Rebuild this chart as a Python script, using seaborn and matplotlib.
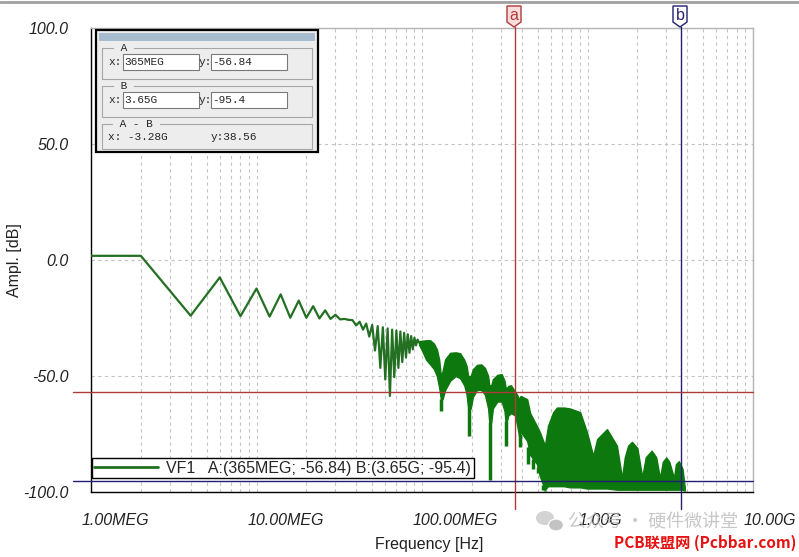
import numpy as np
import pandas as pd
import seaborn as sns
import matplotlib.pyplot as plt
from matplotlib.patches import Rectangle, Polygon, Ellipse
from matplotlib.ticker import LogLocator, MultipleLocator, NullFormatter
from matplotlib.transforms import ScaledTranslation

# discrete harmonics below ~100 MHz, read point by point
harm_mhz = [1, 2, 4, 6, 8, 10, 12, 14, 16, 18, 20, 22, 24, 26, 28, 30, 32, 34,
            36, 38, 40, 42, 44, 46, 48, 50, 52, 54, 56, 58, 60, 62, 64, 66, 68,
            70, 72, 74, 76, 78, 80, 82, 84, 86, 88, 90, 92, 94, 96]
harm_db = [1.8, 1.8, -24.0, -7.5, -24.2, -12.3, -24.4, -14.8, -24.9, -17.5,
           -24.9, -19.9, -25.2, -21.7, -25.4, -23.6, -25.6, -25.4, -25.8, -25.9,
           -28.2, -26.6, -30.0, -27.4, -33.0, -28.0, -39.0, -28.5, -46.5, -29.0,
           -51.5, -29.5, -58.6, -30.0, -50.5, -30.4, -46.5, -30.8, -44.0, -31.4,
           -42.0, -32.0, -40.0, -32.8, -38.5, -33.5, -36.8, -34.3, -35.6]

# dense part above 100 MHz: upper / lower envelope of the harmonic comb
band_mhz = [96, 100, 106, 112, 118, 123, 127, 130,
            133, 138, 148, 160, 170, 180, 186, 190,
            197, 203, 215, 228, 240, 251, 255,
            262, 268, 285, 303, 315, 320,
            327, 332, 345, 365, 375, 386,
            394, 432, 450, 495, 514, 540, 553,
            577, 620, 654, 720, 784, 903, 993, 1082,
            1143, 1311, 1505, 1617,
            1680, 1760, 1856, 2000, 2140,
            2250, 2441, 2600, 2740,
            2850, 2992, 3120, 3330,
            3420, 3559, 3750, 3870]
band_top = [-35.0, -34.8, -34.6, -34.6, -36.0, -38.5, -43.0, -50.0,
            -48.0, -42.8, -40.0, -39.8, -40.2, -43.0, -45.7, -50.0,
            -50.0, -47.1, -45.2, -45.0, -46.5, -50.0, -54.0,
            -54.0, -51.4, -49.5, -49.2, -52.0, -55.0,
            -55.0, -54.3, -54.0, -56.8, -58.0, -60.0,
            -58.6, -60.0, -66.0, -71.6, -74.0, -78.0, -80.0,
            -71.5, -65.6, -63.6, -63.6, -64.0, -65.6, -74.3, -84.4,
            -77.2, -72.9, -80.0, -94.0,
            -85.0, -80.0, -78.4, -81.0, -93.5,
            -85.0, -82.2, -85.0, -94.0,
            -87.0, -85.1, -87.0, -94.0,
            -88.0, -86.7, -90.0, -98.0]
band_bot = [-36.5, -39.0, -43.0, -45.0, -47.0, -50.0, -55.0, -60.0,
            -60.0, -56.0, -52.0, -50.0, -51.0, -54.0, -58.0, -64.0,
            -64.0, -59.0, -56.0, -56.0, -58.0, -64.0, -70.0,
            -70.0, -64.0, -61.0, -61.0, -65.0, -70.0,
            -69.0, -67.0, -66.0, -67.0, -71.0, -76.0,
            -74.0, -78.0, -84.0, -88.0, -93.0, -97.0, -99.0,
            -97.5, -97.5, -97.5, -97.5, -98.0, -98.0, -98.5, -98.5,
            -98.5, -98.5, -99.0, -99.0,
            -99.0, -99.0, -99.0, -99.0, -99.0,
            -99.0, -99.0, -99.0, -99.0,
            -99.0, -99.0, -99.0, -99.0,
            -99.0, -99.0, -99.0, -99.5]

# deep notches of the comb
notch_mhz = [131, 193, 258, 323, 390, 440, 470, 500, 540, 553]
notch_db = [-65.0, -75.8, -94.7, -80.0, -80.8, -88.0, -90.0, -92.0, -99.0, -99.4]

# cursors
cursor_a = (365e6, -56.84)
cursor_b = (3.65e9, -95.4)

x_ticks = [1e6, 1e7, 1e8, 1e9, 1e10]
x_labels = ["1.00MEG", "10.00MEG", "100.00MEG", "1.00G", "10.00G"]
y_ticks = [100, 50, 0, -50, -100]
y_labels = ["100.0", "50.0", "0.0", "-50.0", "-100.0"]

W, H = 799, 557
sns.set_theme(style="white")
plt.rcParams['font.family'] = ['Liberation Sans', 'Noto Sans CJK SC']

line_green = "#237023"
band_green = "#0d780d"
red_c = "#b03a3a"
navy_c = "#20206e"
grid_c = "#c4c4c4"

fig = plt.figure(figsize=(W / 100, H / 100), dpi=100)
fig.patch.set_facecolor("white")
ax = fig.add_axes([91 / W, 1 - 492 / H, 662 / W, 464 / H])

harm = pd.DataFrame({"f": np.array(harm_mhz) * 1e6, "db": harm_db})
sns.lineplot(data=harm, x="f", y="db", ax=ax, color=line_green, lw=1.6,
             sort=False, estimator=None, zorder=3)

bf = np.array(band_mhz) * 1e6
ax.fill_between(bf, band_bot, band_top, color=band_green, lw=1.0,
                edgecolor=band_green, zorder=3)
nf = np.array(notch_mhz) * 1e6
ntop = np.interp(np.log10(nf), np.log10(bf), band_bot)
ax.vlines(nf, notch_db, ntop, color=band_green, lw=2.5, zorder=3)

ax.set_xscale("log")
ax.set_xlim(1e6, 1e10)
ax.set_ylim(-100, 100)

ax.set_xticks(x_ticks, x_labels)
ax.xaxis.set_minor_locator(LogLocator(base=10, subs=np.arange(2, 10)))
ax.xaxis.set_minor_formatter(NullFormatter())
ax.set_yticks(y_ticks, y_labels)
ax.yaxis.set_minor_locator(MultipleLocator(5))

ax.tick_params(axis="both", which="major", direction="out", length=14,
               width=1, color="black", labelsize=11.5, labelcolor="#222222", pad=2)
ax.tick_params(axis="both", which="minor", direction="out", length=7,
               width=1, color="black")
ax.tick_params(axis="x", which="major", pad=1)
for lab in ax.get_xticklabels():
    lab.set_horizontalalignment("left")
    lab.set_style("italic")
    lab.set_transform(lab.get_transform() + ScaledTranslation(-9 / 100, 0, fig.dpi_scale_trans))
for lab in ax.get_yticklabels():
    lab.set_style("italic")

ax.grid(True, axis="x", which="both", ls=(0, (3, 3)), color=grid_c, lw=0.8)
ax.grid(True, axis="y", which="major", ls=(0, (3, 3)), color=grid_c, lw=0.8)
for side in ["left", "bottom"]:
    ax.spines[side].set_color("black")
    ax.spines[side].set_linewidth(1)
for side in ["top", "right"]:
    ax.spines[side].set_color("#b4b4b4")
    ax.spines[side].set_linewidth(1)

ax.set_xlabel("Frequency [Hz]", fontsize=11.5, color="#222222", va="center")
ax.set_ylabel("Ampl. [dB]", fontsize=11.5, color="#222222", va="center")
ax.xaxis.set_label_coords((429 - 91) / 662, (492 - 545) / 464)
ax.yaxis.set_label_coords((15 - 91) / 662, (492 - 260) / 464)

# cursor lines
ax.axvline(cursor_a[0], ymin=-17 / 464, ymax=1 + 1 / 464, color=red_c, lw=1, clip_on=False, zorder=4)
ax.axvline(cursor_b[0], ymin=-17 / 464, ymax=1 + 1 / 464, color=navy_c, lw=1, clip_on=False, zorder=4)
ax.axhline(cursor_a[1], xmin=-18 / 662, xmax=1, color=red_c, lw=1, clip_on=False, zorder=4)
ax.axhline(cursor_b[1], xmin=-18 / 662, xmax=1, color=navy_c, lw=1, clip_on=False, zorder=4)

# legend
leg_lab = "VF1   A:(365MEG; -56.84) B:(3.65G; -95.4)"
h, = ax.plot([], [], color=line_green, lw=2)
leg = ax.legend([h], [leg_lab], loc="lower left", bbox_to_anchor=(92 / W, 1 - 478 / H),
                bbox_transform=fig.transFigure, fontsize=11.5, frameon=True,
                fancybox=False, framealpha=1, edgecolor="black", borderpad=0.15,
                handlelength=4.0, handletextpad=0.5, borderaxespad=0)
leg.get_frame().set_linewidth(1)
leg.set_zorder(6)


def fx(x):
    return x / W


def fy(y):
    return 1 - y / H


def rect(x0, y0, x1, y1, **kw):
    fig.add_artist(Rectangle((fx(x0), fy(y1)), (x1 - x0) / W, (y1 - y0) / H,
                             transform=fig.transFigure, **kw))


def txt(x, y, s, **kw):
    kw.setdefault("fontsize", 8)
    kw.setdefault("family", ["Liberation Mono", "DejaVu Sans Mono"])
    kw.setdefault("va", "center")
    fig.text(fx(x), fy(y), s, zorder=10, **kw)


# cursor info window
box_bg = "#ededed"
rect(96, 30, 318, 152, facecolor=box_bg, edgecolor="black", lw=1.6, zorder=7)
rect(99, 33, 315, 41, facecolor="#a8bccf", edgecolor="none", zorder=8)
for (y0, y1, name, lx) in [(48, 79, "A", 114), (86, 117, "B", 114), (124, 149, "A - B", 113)]:
    rect(102, y0, 312, y1, facecolor="none", edgecolor="#a6a6a6", lw=0.8, zorder=8)
    txt(lx, y0, " " + name + " ", bbox=dict(facecolor=box_bg, edgecolor="none", pad=0.3))
for (yc, xs, ys) in [(62, "365MEG", "-56.84"), (100, "3.65G", "-95.4")]:
    rect(123, yc - 8, 199, yc + 8, facecolor="white", edgecolor="#7a7a7a", lw=0.8, zorder=8)
    rect(211, yc - 8, 287, yc + 8, facecolor="white", edgecolor="#7a7a7a", lw=0.8, zorder=8)
    txt(108, yc, "x:")
    txt(124, yc, xs)
    txt(199, yc, "y:")
    txt(212, yc, ys)
txt(108, 137, "x: -3.28G")
txt(211, 137, "y:38.56")

# cursor flags
for (xc, name, ec, fc) in [(514, "a", red_c, "#f9dede"), (680, "b", navy_c, "white")]:
    fig.add_artist(Polygon([(fx(xc - 7), fy(6)), (fx(xc + 7), fy(6)), (fx(xc + 7), fy(22)),
                            (fx(xc), fy(27)), (fx(xc - 7), fy(22))], closed=True,
                           transform=fig.transFigure, facecolor=fc, edgecolor=ec, lw=1, zorder=7))
    fig.text(fx(xc), fy(15), name, color=ec, fontsize=11.5, ha="center", va="center", zorder=8)

# window frame line at top
fig.add_artist(plt.Line2D([0, 1], [fy(1.5), fy(1.5)], transform=fig.transFigure, color="#a0a0a0", lw=2))

# watermark
fig.add_artist(Ellipse((fx(545), fy(518)), 18 / W, 14 / H, transform=fig.transFigure,
                       facecolor="#c8c8c8", edgecolor="none", alpha=0.8, zorder=9))
fig.add_artist(Ellipse((fx(556), fy(525)), 15 / W, 12 / H, transform=fig.transFigure,
                       facecolor="#bdbdbd", edgecolor="white", lw=1, alpha=0.9, zorder=9))
fig.text(fx(568), fy(522), "公众号 · 硬件微讲堂", color="#b0b0b0", alpha=0.7, fontsize=13,
         family=["Noto Sans CJK SC", "DejaVu Sans"], va="center", ha="left", zorder=9)
fig.text(fx(796), fy(543), "PCB联盟网 (Pcbbar.com)", color="#e81010", fontsize=11,
         fontweight="bold", family=["Noto Sans CJK SC", "DejaVu Sans"], va="center",
         ha="right", zorder=9)

fig.savefig("out.png", dpi=100)
